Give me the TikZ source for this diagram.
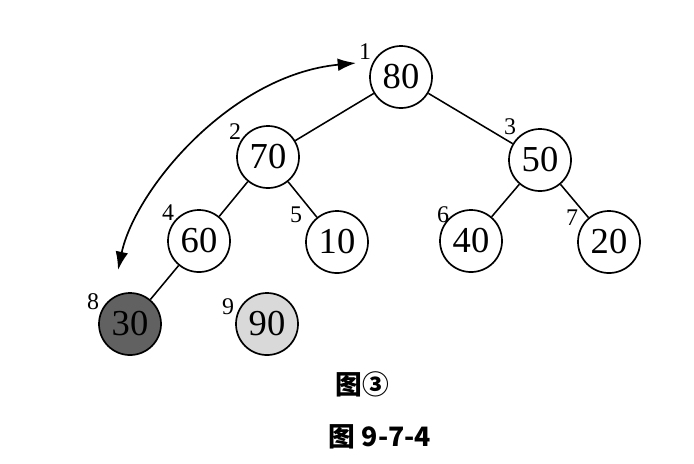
\documentclass[tikz,border=0pt]{standalone}
\usepackage{fontspec}
\setmainfont{Liberation Serif}
\newfontfamily\cjk{Noto Sans CJK SC}
\usetikzlibrary{arrows.meta}

\tikzset{
    heapnode/.style={draw, circle, line width=1.2pt, minimum size=1.55cm, inner sep=0pt, fill=white, font=\fontsize{26}{26}\selectfont},
    idx/.style={font=\fontsize{17}{17}\selectfont, inner sep=0pt},
    edge/.style={line width=1.1pt},
    caption/.style={font=\cjk\bfseries\fontsize{19}{19}\selectfont},
}

\begin{document}
\begin{tikzpicture}[x=0.025cm, y=-0.025cm]
        \useasboundingbox (0,0) rectangle (694,463);

        % Heap nodes
        \foreach \name/\x/\y/\val in {n1/401/77/80, n2/268/157/70, n3/540/160/50,
                                      n4/199/241/60, n5/337/242/10, n6/471/241/40,
                                      n7/609/242/20} {
            \node[heapnode] (\name) at (\x,\y) {\val};
        }
        \node[heapnode, fill=black!62] (n8) at (130,324) {30};
        \node[heapnode, fill=black!15] (n9) at (267,324) {90};

        % Tree edges
        \foreach \a/\b in {n1/n2, n1/n3, n2/n4, n2/n5, n3/n6, n3/n7, n4/n8} {
            \draw[edge] (\a) -- (\b);
        }

        % Index labels
        \foreach \i/\x/\y in {1/365/52, 2/235/132, 3/510/127, 4/168/213,
                              5/296/215, 6/443/215, 7/572/218, 8/93/302, 9/228/307} {
            \node[idx] (l\i) at (\x,\y) {\i};
        }

        % Swap arrow
        \coordinate (a8) at (118,270);
        \coordinate (a1) at (356,63);
        \draw[{Latex[length=13pt,width=9pt]}-{Latex[length=13pt,width=9pt]}, line width=1.2pt]
            (a8) .. controls (135,190) and (230,75) .. (a1);

        % Captions
        \node[caption] (cap1) at (362,384) {图③};
        \node[caption] (cap2) at (380,437) {图 9-7-4};
    \end{tikzpicture}
\end{document}
